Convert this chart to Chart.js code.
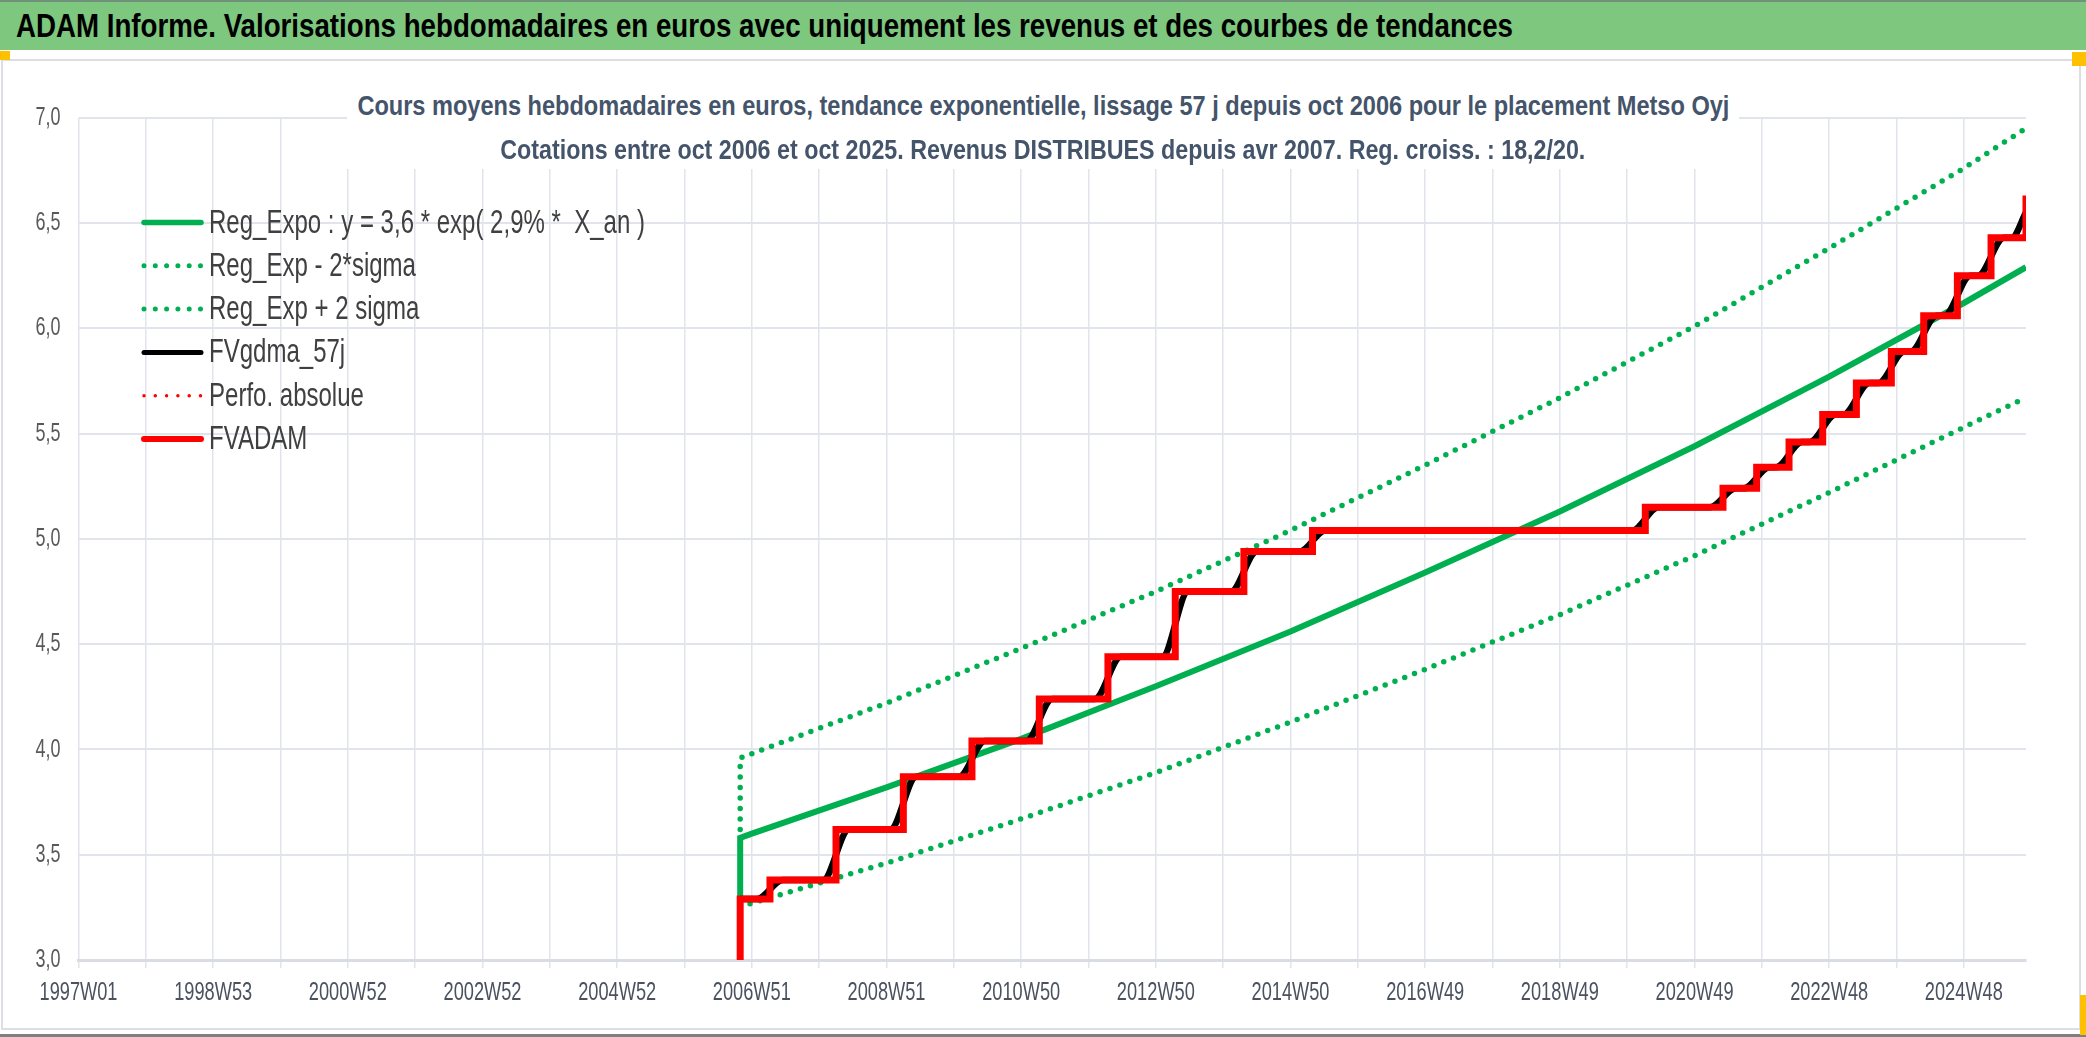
<!DOCTYPE html>
<html>
<head>
<meta charset="utf-8">
<script src="https://cdn.jsdelivr.net/npm/chart.js@4.4.1/dist/chart.umd.min.js"></script>
<style>
  html, body { margin: 0; padding: 0; background: #fff; }
  body { width: 2086px; height: 1037px; position: relative; overflow: hidden;
         font-family: 'Liberation Sans', Arial, sans-serif; }
  #header { position: absolute; left: 0; top: 0; width: 2086px; height: 50px; box-sizing: border-box;
            background: #7dc77e; border-top: 2px solid #70917a; z-index: 3; }
  #header span { position: absolute; left: 16px; top: 0; line-height: 47px; font-weight: bold;
                 font-size: 34px; color: #000; white-space: nowrap; transform-origin: left center; }
  #frame { position: absolute; left: 1px; top: 59px; width: 2080px; height: 971px; box-sizing: border-box;
           border: 2px solid #dcdee3; z-index: 2; pointer-events: none; }
  #bottomline { position: absolute; left: 0; top: 1034px; width: 2086px; height: 3px; background: #7f7f7f; z-index: 2; }
  .handle { position: absolute; background: #ffc000; z-index: 4; }
  #wrap { position: absolute; left: 0; top: 0; width: 2086px; height: 1037px; z-index: 1; }
  #ctitle { position: absolute; left: 347px; top: 84px; width: 1392px; height: 85px; background: #fff;
            font-weight: bold; font-size: 28px; line-height: 44px; color: #44546a;
            z-index: 2; white-space: nowrap; }
  #ctitle div { height: 44px; display: flex; justify-content: center; }
  #ctitle span { display: inline-block; flex: none; transform-origin: center center; }
</style>
</head>
<body>
<div id="header"><span id="htext">ADAM Informe. Valorisations hebdomadaires en euros avec uniquement les revenus et des courbes de tendances</span></div>
<div class="handle" style="left:0;top:51px;width:10px;height:9px"></div>
<div class="handle" style="left:2072px;top:52px;width:14px;height:14px"></div>
<div class="handle" style="left:2080px;top:995px;width:6px;height:40px"></div>
<div id="frame"></div>
<div id="bottomline"></div>
<div id="ctitle">
  <div><span id="t1">Cours moyens hebdomadaires en euros, tendance exponentielle, lissage 57 j depuis oct 2006 pour le placement Metso Oyj</span></div>
  <div><span id="t2">Cotations entre oct 2006 et oct 2025. Revenus DISTRIBUES depuis avr 2007. Reg. croiss. : 18,2/20.</span></div>
</div>
<div id="wrap"><canvas id="chart"></canvas></div>
<script>
// x axis labels (one every 104 weeks, grid line every 52 weeks)
const xTickLabels = ['1997W01', '1998W53', '2000W52', '2002W52', '2004W52', '2006W51', '2008W51',
  '2010W50', '2012W50', '2014W50', '2016W49', '2018W49', '2020W49', '2022W48', '2024W48'];
const yTickLabels = ['3,0', '3,5', '4,0', '4,5', '5,0', '5,5', '6,0', '6,5', '7,0'];
const lastWeek = '2025W44';

// regression curves, read at the labelled grid lines
const regWeeks = ['2006W42', '2006W42', '2006W51', '2008W51', '2010W50', '2012W50', '2014W50',
  '2016W49', '2018W49', '2020W49', '2022W48', '2024W48', '2025W44'];
const regExpo = [3.29, 3.58, 3.60, 3.82, 4.05, 4.30, 4.56, 4.84, 5.13, 5.44, 5.77, 6.12, 6.29];
const regLow  = [3.25, 3.25, 3.27, 3.46, 3.67, 3.89, 4.13, 4.38, 4.64, 4.92, 5.22, 5.53, 5.67];
const regHigh = [3.62, 3.96, 3.98, 4.22, 4.48, 4.75, 5.04, 5.35, 5.67, 6.01, 6.38, 6.76, 6.95];

// FVADAM: week of each step and the level reached
const adamWeeks = ['2006W42', '2006W42', '2007W13', '2008W12', '2009W12', '2010W12', '2011W12',
  '2012W13', '2013W13', '2014W14', '2015W15', '2020W11', '2021W18', '2021W44', '2022W17',
  '2022W43', '2023W17', '2023W44', '2024W17', '2024W43', '2025W17', '2025W44'];
const adamValues = [3.00, 3.29, 3.38, 3.62, 3.87, 4.04, 4.24, 4.44, 4.75, 4.94, 5.04, 5.15,
  5.24, 5.34, 5.46, 5.59, 5.74, 5.89, 6.06, 6.25, 6.43, 6.63];

// FVgdma_57j: smoothed curve, start and end of each S-shaped rise
const gdmaWeeks = ['2006W42', '2007W03', '2007W23', '2008W02', '2008W22', '2009W02', '2009W22',
  '2010W02', '2010W22', '2011W02', '2011W22', '2012W03', '2012W23', '2013W03', '2013W23',
  '2014W04', '2014W24', '2015W05', '2015W25', '2020W01', '2020W21', '2021W08', '2021W28',
  '2021W34', '2022W02', '2022W07', '2022W27', '2022W33', '2023W01', '2023W07', '2023W27',
  '2023W34', '2024W02', '2024W07', '2024W27', '2024W33', '2025W01', '2025W07', '2025W27',
  '2025W33', '2025W44'];
const gdmaValues = [3.29, 3.29, 3.38, 3.38, 3.62, 3.62, 3.87, 3.87, 4.04, 4.04, 4.24, 4.24,
  4.44, 4.44, 4.75, 4.75, 4.94, 4.94, 5.04, 5.04, 5.15, 5.15, 5.24, 5.24, 5.34, 5.34, 5.46,
  5.46, 5.59, 5.59, 5.74, 5.74, 5.89, 5.89, 6.06, 6.06, 6.25, 6.25, 6.43, 6.43, 6.55];

const perfoWeeks = [];
const perfoValues = [];

// ISO years with 53 weeks
const longYears = [1998, 2004, 2009, 2015, 2020];
function weekIndex(label) {
  const y = +label.slice(0, 4), w = +label.slice(5);
  let idx = 0;
  for (let yr = 1997; yr < y; yr++) idx += longYears.includes(yr) ? 53 : 52;
  return idx + w - 1;
}
function points(weeks, values) {
  return weeks.map((w, i) => ({ x: weekIndex(w), y: values[i] }));
}

const gridValues = [];
xTickLabels.forEach(l => {
  const v = weekIndex(l);
  gridValues.push(v);
  if (v + 52 <= weekIndex(lastWeek)) gridValues.push(v + 52);
});

// the reference uses a narrow font: squeeze text horizontally to its widths
function squeeze(el, target) {
  el.style.transform = 'scaleX(' + (target / el.getBoundingClientRect().width) + ')';
}
squeeze(document.getElementById('htext'), 1497);
squeeze(document.getElementById('t1'), 1372);
squeeze(document.getElementById('t2'), 1085);

const GREEN = '#00b050';
const FONT = "'Liberation Sans', Arial, sans-serif";
const measure = document.createElement('canvas').getContext('2d');
function squeezeFactor(font, sample, target) {
  measure.font = font;
  return target / measure.measureText(sample).width;
}
const LEGEND_FONT = '33px ' + FONT;
const XTICK_FONT = '25px ' + FONT;
const YTICK_FONT = '26px ' + FONT;
const legendSx = squeezeFactor(LEGEND_FONT, 'Reg_Expo : y = 3,6 * exp( 2,9% *  X_an )', 436);
const xSx = squeezeFactor(XTICK_FONT, '1997W01', 78);
const ySx = squeezeFactor(YTICK_FONT, '7,0', 25);

function narrowText(ctx, text, x, y, sx, align) {
  ctx.save();
  ctx.translate(x, y);
  ctx.scale(sx, 1);
  ctx.textAlign = align;
  ctx.fillText(text, 0, 0);
  ctx.restore();
}

const narrowLabels = {
  id: 'narrowLabels',
  afterDraw(chart) {
    const ctx = chart.ctx;
    const xs = chart.scales.x, ys = chart.scales.y;
    ctx.save();
    ctx.textBaseline = 'middle';
    // axis labels
    ctx.font = XTICK_FONT;
    ctx.fillStyle = '#4a5260';
    xs.ticks.forEach((t, i) => {
      if (i % 2 === 0) narrowText(ctx, xTickLabels[i / 2], xs.getPixelForValue(t.value), 993, xSx, 'center');
    });
    ctx.font = YTICK_FONT;
    ctx.fillStyle = '#595959';
    ys.ticks.forEach((t, i) => {
      narrowText(ctx, yTickLabels[i], ys.left + ys.width - 18, ys.getPixelForValue(t.value), ySx, 'right');
    });
    // legend inside the plot
    ctx.font = LEGEND_FONT;
    ctx.fillStyle = '#404040';
    chart.data.datasets.forEach((ds, i) => {
      const y = 222.5 + i * 43.3;
      ctx.beginPath();
      ctx.strokeStyle = ds.borderColor;
      ctx.lineWidth = ds.legendWidth;
      ctx.lineCap = 'round';
      ctx.setLineDash(ds.borderDash ? [0, 11.3] : []);
      ctx.moveTo(144, y);
      ctx.lineTo(201, y);
      ctx.stroke();
      narrowText(ctx, ds.label, 209, y + 1, legendSx, 'left');
    });
    ctx.restore();
  }
};

new Chart(document.getElementById('chart'), {
  type: 'line',
  data: {
    datasets: [
      { label: 'Reg_Expo : y = 3,6 * exp( 2,9% *  X_an )', data: points(regWeeks, regExpo),
        borderColor: GREEN, borderWidth: 6, legendWidth: 5.5, order: 5 },
      { label: 'Reg_Exp - 2*sigma', data: points(regWeeks, regLow),
        borderColor: GREEN, borderWidth: 5.5, borderDash: [0, 10.5], borderCapStyle: 'round',
        legendWidth: 5, order: 4 },
      { label: 'Reg_Exp + 2 sigma', data: points(regWeeks, regHigh),
        borderColor: GREEN, borderWidth: 5.5, borderDash: [0, 10.5], borderCapStyle: 'round',
        legendWidth: 5, order: 3 },
      { label: 'FVgdma_57j', data: points(gdmaWeeks, gdmaValues),
        borderColor: '#000000', borderWidth: 6.5, cubicInterpolationMode: 'monotone', tension: 0.4,
        legendWidth: 5, order: 2 },
      { label: 'Perfo. absolue', data: points(perfoWeeks, perfoValues),
        borderColor: '#ff0000', borderWidth: 3.5, borderDash: [0, 11], borderCapStyle: 'round',
        legendWidth: 3.5, order: 1 },
      { label: 'FVADAM', data: points(adamWeeks, adamValues),
        borderColor: '#ff0000', borderWidth: 7, stepped: true, legendWidth: 6, order: 0 }
    ]
  },
  options: {
    responsive: true,
    maintainAspectRatio: false,
    animation: false,
    layout: { padding: { top: 117.7, right: 60, left: 0, bottom: 0 } },
    elements: { point: { radius: 0 }, line: { fill: false, borderJoinStyle: 'miter' } },
    plugins: { legend: { display: false }, tooltip: { enabled: false }, title: { display: false } },
    scales: {
      x: {
        type: 'linear',
        min: 0,
        max: weekIndex(lastWeek),
        afterBuildTicks: scale => { scale.ticks = gridValues.map(v => ({ value: v })); },
        afterFit: scale => { scale.height = 77; },
        grid: { color: '#e1e4ea', lineWidth: 1.5, tickLength: 8 },
        border: { color: '#d9dce2', width: 3 },
        ticks: { display: false, autoSkip: false }
      },
      y: {
        min: 3,
        max: 7,
        afterFit: scale => { scale.width = 78.5; },
        grid: { color: '#e1e4ea', lineWidth: 2, drawTicks: false },
        border: { display: false },
        ticks: { display: false, stepSize: 0.5 }
      }
    }
  },
  plugins: [narrowLabels]
});
</script>
</body>
</html>
